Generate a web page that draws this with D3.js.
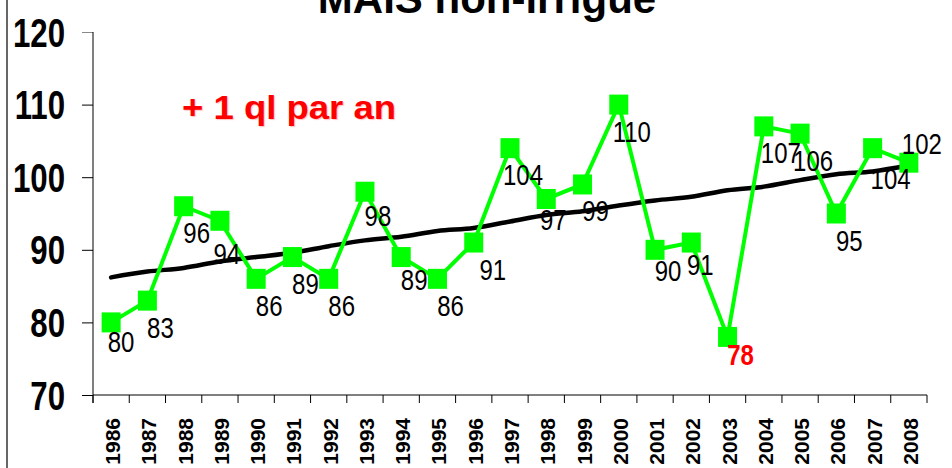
<!DOCTYPE html>
<html>
<head>
<meta charset="utf-8">
<script src="https://cdn.jsdelivr.net/npm/d3@7"></script>
<style>
  html, body { margin: 0; padding: 0; background: #fff; }
  svg { display: block; font-family: "Liberation Sans", Arial, sans-serif; }
</style>
</head>
<body>
<svg id="chart" width="952" height="468"></svg>
<script>
// ---- data ----
const years = ["1986","1987","1988","1989","1990","1991","1992","1993","1994","1995","1996","1997",
               "1998","1999","2000","2001","2002","2003","2004","2005","2006","2007","2008"];
const yields = [80, 83, 96, 94, 86, 89, 86, 98, 89, 86, 91, 104, 97, 99, 110, 90, 91, 78, 107, 106, 95, 104, 102];
const trend = [86.2, 87.0, 87.5, 88.4, 89.0, 89.6, 90.5, 91.3, 91.8, 92.6, 93.0, 93.9,
               94.8, 95.3, 96.1, 96.8, 97.3, 98.2, 98.7, 99.6, 100.4, 100.8, 101.6];
const yTicks = [70, 80, 90, 100, 110, 120];
const titleText = "MAIS non-irrigué";
const annotation = "+ 1 ql par an";
const highlightYear = "2003";

// ---- layout ----
const svg = d3.select("#chart");
const pLeft = 93, pRight = 927, pTop = 32, pBottom = 395;
const x = d3.scaleBand().domain(years).range([pLeft, pRight]).padding(0);
const y = d3.scaleLinear().domain([70, 120]).range([pBottom, pTop]);
const cx = d => x(d) + x.bandwidth() / 2;

// left frame line
svg.append("line").attr("x1", 7).attr("x2", 7).attr("y1", 0).attr("y2", 468)
  .attr("stroke", "#333").attr("stroke-width", 1.5);

// title (partly cut off at top, as in the reference)
svg.append("text").attr("x", 487).attr("y", 13)
  .attr("text-anchor", "middle").attr("font-weight", "bold").attr("font-size", 42)
  .attr("fill", "#000").text(titleText);

// y axis
const yAxis = svg.append("g").attr("transform", `translate(${pLeft},0)`)
  .call(d3.axisLeft(y).tickValues(yTicks).tickSize(11).tickFormat(d3.format("d")));
yAxis.select(".domain").remove();
yAxis.selectAll(".tick line").attr("stroke", d => d === 120 ? "#888" : "#000");
yAxis.selectAll(".tick text").remove();
yAxis.selectAll(".tick").append("text")
  .attr("transform", "translate(-28,14) scale(0.78,1)")
  .attr("text-anchor", "end").attr("font-weight", "bold").attr("font-size", 40)
  .attr("fill", "#000").text(d => d);
svg.append("line").attr("x1", pLeft).attr("x2", pLeft).attr("y1", pTop).attr("y2", pBottom + 8)
  .attr("stroke", "#000");

// x axis
svg.append("line").attr("x1", pLeft).attr("x2", pRight).attr("y1", pBottom).attr("y2", pBottom)
  .attr("stroke", "#000");
const bounds = years.map(d => x(d)).concat([pRight]);
svg.append("g").selectAll("line").data(bounds).join("line")
  .attr("x1", d => d).attr("x2", d => d).attr("y1", pBottom).attr("y2", pBottom + 8)
  .attr("stroke", "#000");
svg.append("g").selectAll("text").data(years).join("text")
  .attr("transform", d => `translate(${cx(d) + 9},${418}) rotate(-90)`)
  .attr("text-anchor", "end").attr("font-weight", "bold").attr("font-size", 21)
  .attr("fill", "#000").text(d => d);

// trend line
const trendLine = d3.line().x((d, i) => cx(years[i])).y(d => y(d)).curve(d3.curveMonotoneX);
svg.append("path").datum(trend).attr("d", trendLine)
  .attr("fill", "none").attr("stroke", "#000").attr("stroke-width", 4.5)
  .attr("stroke-linecap", "round");

// data line
const dataLine = d3.line().x((d, i) => cx(years[i])).y(d => y(d));
svg.append("path").datum(yields).attr("d", dataLine)
  .attr("fill", "none").attr("stroke", "#00ff00").attr("stroke-width", 4);

// markers
svg.append("g").selectAll("rect").data(yields).join("rect")
  .attr("x", (d, i) => cx(years[i]) - 9.5).attr("y", d => y(d) - 10)
  .attr("width", 19).attr("height", 20).attr("fill", "#00ff00");

// data labels
const nudge = {"1986": [-3, -7], "1989": [-6, 6], "1996": [6, 0], "1998": [-6, -6], "1994": [0, -4],
               "1993": [0, -3], "2001": [0, -6], "2002": [-4, -5], "2003": [0, -9], "2004": [4, 0],
               "2007": [5, 4], "2008": [0, -46]};
svg.append("g").selectAll("text").data(yields).join("text")
  .attr("transform", (d, i) => {
    const n = nudge[years[i]] || [0, 0];
    return `translate(${cx(years[i]) + 13 + n[0]},${y(d) + 37 + n[1]}) scale(0.8,1)`;
  })
  .attr("text-anchor", "middle").attr("font-size", 30)
  .attr("font-weight", (d, i) => years[i] === highlightYear ? "bold" : "normal")
  .attr("fill", (d, i) => years[i] === highlightYear ? "#ff0000" : "#000")
  .text(d => d);

// annotation
svg.append("text").attr("x", 182).attr("y", 119)
  .attr("font-weight", "bold").attr("font-size", 34).attr("fill", "#ff0000")
  .attr("textLength", 214).attr("lengthAdjust", "spacingAndGlyphs")
  .style("text-shadow", "1px 1px 1px rgba(255,0,0,0.25)")
  .text(annotation);
</script>
</body>
</html>
